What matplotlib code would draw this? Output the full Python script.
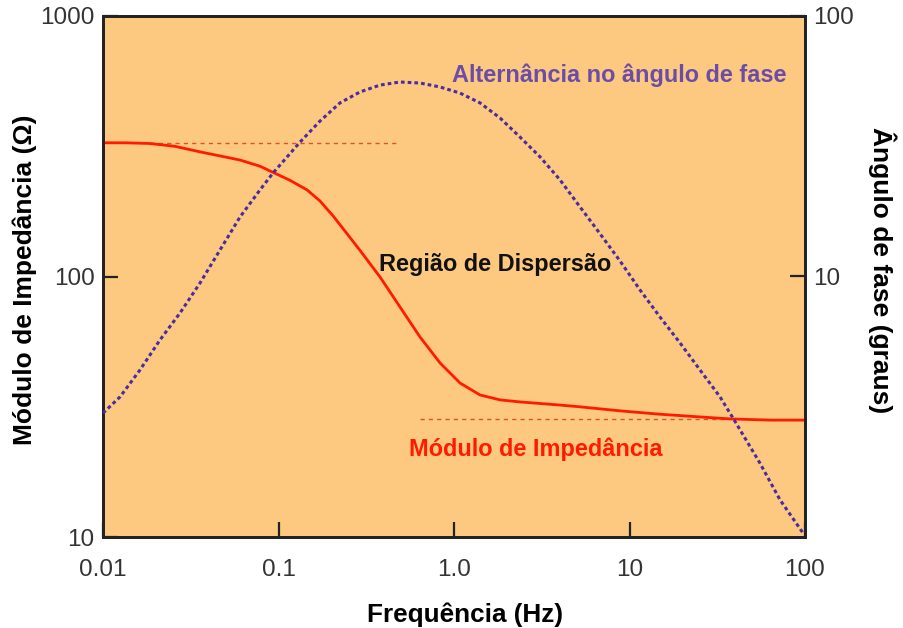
import matplotlib
matplotlib.use("Agg")
import matplotlib.pyplot as plt
from matplotlib.ticker import FixedLocator, NullLocator, FixedFormatter

plt.rcParams['font.family'] = ['Liberation Sans', 'DejaVu Sans']

# Impedance modulus (left axis, ohms)
imp_freq = [0.01, 0.0134, 0.01853, 0.0257, 0.0357, 0.0603, 0.0785, 0.0931, 0.1163,
            0.1454, 0.1723, 0.2044, 0.2456, 0.2913, 0.3787, 0.4923, 0.640, 0.832,
            1.082, 1.406, 1.829, 2.377, 4.018, 5.224, 8.83, 14.92, 25.2, 37.4,
            63.2, 100]
imp_mod = [326, 326, 324, 316, 301, 280, 265, 251, 234,
           215, 195, 171, 146, 126, 99.6, 76.4, 58.6, 46.6,
           39.0, 35.1, 33.6, 33.0, 32.1, 31.6, 30.5, 29.6, 28.9, 28.4,
           28.1, 28.1]

# Phase angle (right axis, degrees)
ph_freq = [0.01, 0.0125, 0.01625, 0.02113, 0.02746, 0.0357, 0.04642, 0.06034, 0.07846,
           0.0931, 0.1326, 0.1723, 0.2241, 0.2913, 0.3787, 0.4923, 0.640, 0.832,
           1.082, 1.406, 1.829, 2.377, 3.090, 4.018, 5.224, 6.79, 8.83, 11.48,
           14.92, 19.40, 25.2, 32.8, 38.9, 55.4, 72.0, 97.4]
ph_ang = [2.99, 3.45, 4.38, 5.71, 7.24, 9.44, 12.64, 16.92, 21.5,
          24.97, 32.8, 39.5, 46.4, 51.1, 54.3, 55.8, 55.3, 53.4,
          50.6, 46.4, 40.6, 34.3, 28.8, 23.5, 18.5, 14.6, 11.47, 8.88,
          6.99, 5.56, 4.38, 3.45, 2.86, 1.92, 1.39, 1.036]

# Asymptote reference lines
high_ref_freq = [0.0185, 0.49]
high_ref_val = [325, 325]
low_ref_freq = [0.64, 37]
low_ref_val = [28.3, 28.3]

x_ticks = [0.01, 0.1, 1.0, 10, 100]
x_ticklabels = ['0.01', '0.1', '1.0', '10', '100']
left_ticks = [10, 100, 1000]
left_ticklabels = ['10', '100', '1000']
right_ticks = [10, 100]
right_ticklabels = ['10', '100']

BG = '#FDC880'
RED = '#FF1A00'
PURPLE_LINE = '#4A2BA0'
PURPLE_TXT = '#6B4DA8'
TICKCOL = '#333333'

fig = plt.figure(figsize=(9.04, 6.28), dpi=100)
ax = fig.add_axes([103/904, 1-537/628, (805-103)/904, (537-16)/628])
ax.set_facecolor(BG)
ax.set_xscale('log')
ax.set_yscale('log')
ax.set_xlim(0.01, 100)
ax.set_ylim(10, 1000)

ax.plot(imp_freq, imp_mod, color=RED, lw=2.0, zorder=3, solid_joinstyle='round')
ax.plot(high_ref_freq, high_ref_val, color='#E0502A', lw=1.0, ls=(0, (3, 3)), zorder=2)
ax.plot(low_ref_freq, low_ref_val, color='#E0502A', lw=1.0, ls=(0, (3, 3)), zorder=2)

ax2 = ax.twinx()
ax2.set_yscale('log')
ax2.set_ylim(1, 100)
ax2.plot(ph_freq, ph_ang, color=PURPLE_LINE, lw=2.2, ls=(0, (1.2, 1.0)), zorder=4)

for a in (ax, ax2):
    for s in a.spines.values():
        s.set_linewidth(2.0)
        s.set_color('#222222')

ax.xaxis.set_major_locator(FixedLocator(x_ticks))
ax.xaxis.set_major_formatter(FixedFormatter(x_ticklabels))
ax.xaxis.set_minor_locator(NullLocator())
ax.yaxis.set_major_locator(FixedLocator(left_ticks))
ax.yaxis.set_major_formatter(FixedFormatter(left_ticklabels))
ax.yaxis.set_minor_locator(NullLocator())
ax2.yaxis.set_major_locator(FixedLocator(right_ticks))
ax2.yaxis.set_major_formatter(FixedFormatter(right_ticklabels))
ax2.yaxis.set_minor_locator(NullLocator())

ax.tick_params(axis='x', direction='in', length=11, width=1.6, color='#222222',
               labelsize=17.5, labelcolor=TICKCOL, pad=16)
ax.tick_params(axis='y', direction='in', length=11, width=1.6, color='#222222',
               labelsize=17.5, labelcolor=TICKCOL, pad=6)
ax2.tick_params(axis='y', direction='in', length=11, width=1.6, color='#222222',
                labelsize=17.5, labelcolor=TICKCOL, pad=6)

fig.text(465/904, 1-622/628, 'Frequência (Hz)', fontsize=18.8, fontweight='bold',
         ha='center', va='baseline')
fig.text(25/904, 1-280/628, 'Módulo de Impedância (Ω)', fontsize=19, fontweight='bold',
         rotation=90, ha='center', va='center')
fig.text(882/904, 1-270/628, 'Ângulo de fase (graus)', fontsize=19, fontweight='bold',
         rotation=270, ha='center', va='center')

fig.text(495/904, 1-265/628, 'Região de Dispersão', fontsize=16.9, fontweight='bold',
         color='#111111', ha='center', va='center')
fig.text(619/904, 1-75/628, 'Alternância no ângulo de fase', fontsize=16.9,
         fontweight='bold', color=PURPLE_TXT, ha='center', va='center')
fig.text(536/904, 1-449/628, 'Módulo de Impedância', fontsize=16.9,
         fontweight='bold', color=RED, ha='center', va='center')

fig.savefig('out.png', dpi=100, facecolor='white')
